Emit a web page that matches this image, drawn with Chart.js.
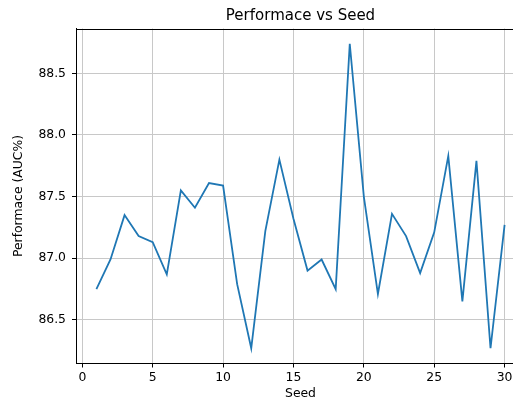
<!DOCTYPE html>
<html>
<head>
<meta charset="utf-8">
<script src="https://cdn.jsdelivr.net/npm/chart.js@4.4.0/dist/chart.umd.min.js"></script>
<style>
  html, body { margin: 0; padding: 0; background: #fff; overflow: hidden; }
  #wrap { position: relative; width: 530px; height: 401px; }
</style>
</head>
<body>
<div id="wrap"><canvas id="chartSeed"></canvas></div>
<script>
// Datos
const seeds = [1, 2, 3, 4, 5, 6, 7, 8, 9, 10, 11, 12, 13, 14, 15,
               16, 17, 18, 19, 20, 21, 22, 23, 24, 25, 26, 27, 28, 29, 30];
const auc = [86.75, 86.99, 87.35, 87.18, 87.13, 86.87, 87.55, 87.41, 87.61, 87.59,
             86.79, 86.27, 87.22, 87.80, 87.32, 86.90, 86.99, 86.75, 88.74, 87.50,
             86.71, 87.36, 87.18, 86.88, 87.21, 87.83, 86.65, 87.79, 86.27, 87.27];
const xTicks = [0, 5, 10, 15, 20, 25, 30];
const yTicks = [86.5, 87.0, 87.5, 88.0, 88.5];

// margenes tipo matplotlib (5%)
const xSpan = seeds[seeds.length - 1] - seeds[0];
const yMinData = Math.min(...auc), yMaxData = Math.max(...auc);
const ySpan = yMaxData - yMinData;

const FONT = "'DejaVu Sans', sans-serif";

// borde superior (spine)
const topSpine = {
    id: 'topSpine',
    afterDraw(chart) {
        const { ctx, chartArea } = chart;
        ctx.save();
        ctx.strokeStyle = '#000';
        ctx.lineWidth = 1;
        ctx.beginPath();
        ctx.moveTo(chartArea.left, Math.round(chartArea.top) + 0.5);
        ctx.lineTo(chartArea.right, Math.round(chartArea.top) + 0.5);
        ctx.stroke();
        ctx.restore();
    }
};

new Chart(document.getElementById('chartSeed'), {
    type: 'line',
    data: {
        datasets: [{
            data: seeds.map((s, i) => ({ x: s, y: auc[i] })),
            borderColor: '#1f77b4',
            borderWidth: 1.8,
            pointRadius: 0,
            tension: 0,
            fill: false
        }]
    },
    options: {
        responsive: true,
        maintainAspectRatio: false,
        animation: false,
        layout: { padding: { left: 0, right: 5, top: 0, bottom: 0 } },
        plugins: {
            legend: { display: false },
            tooltip: { enabled: false },
            title: {
                display: true,
                text: 'Performace vs Seed',
                fullSize: false,
                color: '#000',
                font: { family: FONT, size: 15, weight: 'normal' },
                padding: { top: 7, bottom: 3.5 }
            }
        },
        scales: {
            x: {
                type: 'linear',
                min: seeds[0] - xSpan * 0.05,
                max: seeds[seeds.length - 1] + xSpan * 0.05,
                afterBuildTicks: s => { s.ticks = xTicks.map(v => ({ value: v })); },
                afterFit: s => { s.height = 37.5; },
                ticks: {
                    color: '#000',
                    font: { family: FONT, size: 12.4 },
                    padding: 3,
                    maxRotation: 0,
                    callback: v => String(v)
                },
                grid: { color: '#c8c8c8', lineWidth: 1, tickColor: '#000', tickLength: 4, tickWidth: 1 },
                border: { color: '#000', width: 1 },
                title: {
                    display: true,
                    text: 'Seed',
                    color: '#000',
                    font: { family: FONT, size: 12.4 },
                    padding: { top: 0, bottom: 0 }
                }
            },
            y: {
                type: 'linear',
                min: yMinData - ySpan * 0.05,
                max: yMaxData + ySpan * 0.05,
                afterBuildTicks: s => { s.ticks = yTicks.map(v => ({ value: v })); },
                afterFit: s => { s.width = 76; },
                ticks: {
                    color: '#000',
                    font: { family: FONT, size: 12.4 },
                    padding: 6,
                    callback: v => v.toFixed(1)
                },
                grid: { color: '#c8c8c8', lineWidth: 1, tickColor: '#000', tickLength: 4, tickWidth: 1 },
                border: { color: '#000', width: 1 },
                title: {
                    display: true,
                    text: 'Performace (AUC%)',
                    color: '#000',
                    font: { family: FONT, size: 12.4 },
                    padding: { top: 11.5, bottom: 0 }
                }
            }
        }
    },
    plugins: [topSpine]
});
</script>
</body>
</html>
